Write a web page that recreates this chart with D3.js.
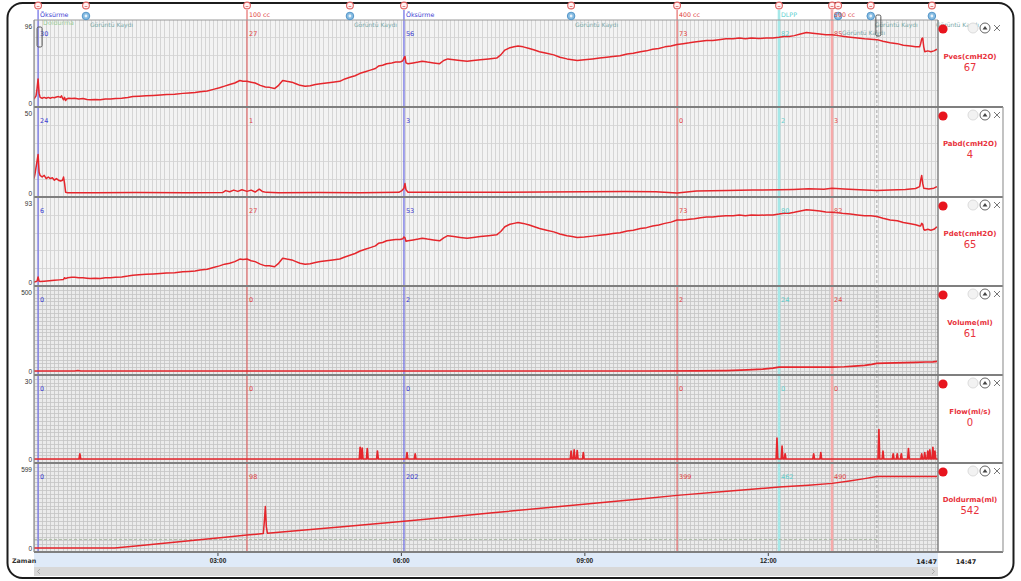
<!DOCTYPE html>
<html>
<head>
<meta charset="utf-8">
<script src="https://cdn.jsdelivr.net/npm/d3@7"></script>
<style>
  body { margin: 0; background: #fff; }
  svg { display: block; font-family: "DejaVu Sans", "Liberation Sans", sans-serif; }
</style>
</head>
<body>
<svg id="chart" width="1021" height="581"></svg>
<script>
// ---- recording data (time in seconds) ----
const totalSeconds = 887;
const channelNames = ["Pves(cmH2O)", "Pabd(cmH2O)", "Pdet(cmH2O)", "Volume(ml)", "Flow(ml/s)", "Doldurma(ml)"];
const channelMax = [96, 50, 93, 500, 30, 599];
const currentValues = [67, 4, 65, 61, 0, 542];

const pves = [[0,5],[1,7],[2,9],[3,18],[4,30],[5,12],[6,7],[8,6],[10,7],[12,6],[14,7],[16,6],[18,7],[20,6.5],[22,7.5],[24,8],[26,7],[27,9],[28,6],[29,4],[30,7],[31,3],[32,5],[34,6],[37,5.5],[40,6],[44,5],[48,5.5],[52,4.5],[55,4],[60,4.5],[65,4],[70,5],[75,5],[80,5.5],[86,6],[92,7],[97,8],[103,8.5],[110,9],[117,9.5],[124,10],[130,10.5],[138,11],[146,12],[152,12.5],[158,13],[163,14],[170,15],[176,17],[182,19],[187,21],[192,23],[197,25],[202,28],[205,27],[209,27],[213,26],[217,25],[222,22],[227,20],[231,19.5],[236,18],[240,22],[244,28],[248,27],[253,26],[257,24],[261,22],[266,21],[271,21.5],[276,23],[281,24],[287,25],[293,26],[300,27],[305,30],[310,32],[315,34],[320,37],[325,39],[330,41],[335,43],[338,46],[342,47],[346,49],[351,50],[355,51],[359,51],[361,52],[362,53],[363,56],[364,58],[365,50],[367,49],[372,50],[377,51],[381,52],[386,51],[392,50],[398,49],[402,53],[406,55],[412,54],[418,53],[425,52],[431,53],[438,54],[446,55],[454,56],[458,60],[462,66],[467,69],[471,70],[475,71],[480,70],[486,68],[491,66],[496,64],[503,62],[510,60],[516,57],[523,55],[528,54],[533,53],[540,54],[548,55],[555,56],[562,57],[568,58],[575,59],[582,61],[588,62],[595,64],[601,65],[607,67],[613,68],[619,70],[625,71],[631,73],[637,74],[643,75],[648,76],[654,77],[660,78],[666,78],[672,79],[679,80],[686,80],[692,81],[698,80],[704,81],[711,80.5],[719,81],[725,81],[731,82],[736,83],[741,83],[746,84],[752,86],[758,88],[764,87],[771,86],[777,85],[783,85],[789,84],[795,83],[801,82],[808,81],[815,80],[821,79.5],[827,79],[833,77],[840,75],[847,74],[853,72],[860,71],[865,70],[869,70],[870,74],[871,80],[872,81],[873,70],[874,64],[877,65],[880,64],[883,65],[886,67]];

const pabd = [[0,9],[1,12],[2,16],[3,20],[4,24],[5,13],[6,11],[8,10],[10,11],[12,9],[14,10],[16,9],[18,9.5],[20,8],[22,9],[24,8],[26,7.5],[28,8],[29,10],[30,6],[31,0.5],[33,0.2],[60,0.2],[100,0.3],[150,0.2],[185,0.3],[188,1.5],[192,0.8],[196,1.8],[200,1],[204,2],[209,1],[213,1.8],[217,0.6],[221,2.4],[224,1],[228,0.4],[240,0.2],[280,0.3],[320,0.2],[358,0.4],[361,1.5],[363,3],[364,6],[365,2],[367,0.5],[400,0.4],[450,0.5],[500,0.6],[540,0.8],[580,1],[610,0.8],[631,0],[650,1.2],[680,1.6],[705,1.8],[731,2],[745,2.2],[760,2.6],[775,2.4],[783,3],[795,2.5],[810,2],[827,1.6],[840,1.8],[855,2.2],[865,2.8],[869,4],[870,8],[871,11],[872,6],[873,3],[878,2.5],[883,3],[886,4]];

const pdet = [[0,0],[2,0.5],[3,1],[4,6],[5,1],[6,0.5],[10,1],[15,1.5],[20,2],[25,2.5],[29,3],[30,5],[31,4],[33,5],[37,5.5],[40,5.5],[44,5],[48,5],[52,4.5],[55,4],[60,4.5],[65,4],[70,5],[75,5],[80,5.5],[86,6],[92,7],[97,8],[103,8.5],[110,9],[117,9.5],[124,10],[130,10.5],[138,11],[146,12],[152,12.5],[158,13],[163,14],[170,15],[176,17],[182,19],[187,21],[192,22],[197,24],[202,27],[205,26.5],[209,27],[213,25],[217,24],[222,21],[227,19],[231,19],[236,18],[240,22],[244,28],[248,27],[253,26],[257,24],[261,22],[266,21],[271,21.5],[276,23],[281,24],[287,25],[293,26],[300,27],[305,29.5],[310,31.5],[315,33.5],[320,36.5],[325,38.5],[330,40.5],[335,42.5],[338,45.5],[342,46.5],[346,48.5],[351,49.5],[355,50],[359,50],[362,51],[363,53],[364,52],[365,48],[367,48.5],[372,49.5],[377,50.5],[381,51.5],[386,50.5],[392,49.5],[398,48.5],[402,52],[406,54.5],[412,53.5],[418,52.5],[425,51.5],[431,52.5],[438,53.5],[446,54.5],[454,55.5],[458,59.5],[462,65],[467,68],[471,69],[475,70],[480,69],[486,67],[491,65],[496,63],[503,61],[510,59],[516,56.5],[523,54.5],[528,53.5],[533,52.5],[540,53],[548,54],[555,55],[562,56],[568,57],[575,58],[582,60],[588,61],[595,63],[601,64],[607,66],[613,67],[619,69],[625,70.5],[631,73],[637,73],[643,74],[648,74.5],[654,75.5],[660,76.5],[666,76.5],[672,77.5],[679,78],[686,78],[692,79],[698,78],[704,79],[711,78.5],[719,79],[725,79],[731,80],[736,81],[741,81],[746,82],[752,83.5],[758,85],[764,84.5],[771,83.5],[777,82.5],[783,82],[789,81.5],[795,80.5],[801,80],[808,79],[815,78],[821,78],[827,77],[833,75],[840,73],[847,72],[853,70],[860,68.5],[865,67.5],[869,66],[870,66],[871,69],[872,68],[873,62],[874,61],[877,62],[880,61],[883,62],[886,65]];

const volume = [[0,0],[40,0],[43,3],[46,0],[300,0],[600,0],[650,0.5],[680,3],[700,7],[715,12],[725,18],[731,24],[760,24],[783,24],[795,27],[805,31],[815,36],[822,42],[827,48],[835,50],[845,52],[855,53],[865,55],[875,57],[882,58],[886,61]];

const flowSpikeTimes = [45, 320, 322, 327, 337, 366, 374, 527, 530, 533, 539, 729, 734, 737, 765, 772, 829, 833, 843, 847, 851, 858, 871, 874, 877, 879, 882, 884];
const flowSpikePeaks = [2, 4.5, 4.2, 4, 3, 2.5, 2, 3, 3.5, 3.2, 2.5, 8, 5, 2, 2, 2.5, 11.3, 3, 2, 2, 2, 4, 2, 2.5, 3, 3.5, 4.5, 3];

const filling = [[0,0],[79,0],[100,15],[130,37],[160,60],[190,83],[209,98],[225,110],[226,200],[227,314],[228,160],[229,112],[260,133],[300,160],[330,180],[363,202],[400,230],[450,267],[500,303],[550,340],[600,376],[631,399],[680,430],[731,462],[760,476],[783,490],[800,508],[815,526],[827,542],[886,542]];

const eventTimes = [4, 209, 363, 631, 731, 783];
const eventNames = ["Öksürme", "100 cc", "Öksürme", "400 cc", "DLPP", "500 cc"];
const eventKinds = ["cough", "volume", "cough", "volume", "dlpp", "volumeMark"];
const eventReadings = [
  [30, 27, 56, 73, 82, 85],
  [24, 1, 3, 0, 2, 3],
  [6, 27, 53, 73, 80, 82],
  [0, 0, 2, 2, 24, 24],
  [0, 0, 0, 0, 0, 0],
  [0, 98, 202, 399, 462, 490]
];
const snapshotTimes = [51, 310, 527, 789, 821, 881];
const snapshotLabel = "Görüntü Kaydı";
const fillStartLabel = "Doldurma";
const fillEndTime = 827;
const fillGuideValue = 65;
const timeTicks = [180, 360, 540, 720];
const axisTitle = "Zaman";

// ---- layout ----
const svg = d3.select("#chart");
const plotL = 34, plotR = 938, boxR = 1003;
const bands = [[20, 107], [107, 197], [197, 286], [286, 375], [375, 463], [463, 552]];
const x = d3.scaleLinear().domain([0, totalSeconds]).range([plotL, plotR]);
const yScales = bands.map((b, i) => d3.scaleLinear().domain([0, channelMax[i]]).range([b[1] - 4, b[0] + 6]));
const traceColor = "#e5262c";
const styleOf = {
  cough: { color: "#7474e6", width: 1.3, text: "#3c3cd2" },
  volume: { color: "#e05050", width: 1, text: "#e04040" },
  dlpp: { color: "#a6e8e8", width: 2.6, text: "#5fd0d0" },
  volumeMark: { color: "#f6aaaa", width: 2.6, text: "#e04848" }
};
const fmt = s => String(Math.floor(s / 60)).padStart(2, "0") + ":" + String(s % 60).padStart(2, "0");

// flow trace built from its spikes on a zero baseline
const flow = [[0, 0]];
flowSpikeTimes.forEach((t, i) => { flow.push([t - 0.8, 0], [t, flowSpikePeaks[i]], [t + 0.8, 0]); });
flow.push([totalSeconds, 0]);
const series = [pves, pabd, pdet, volume, flow, filling];

// ---- outer frame ----
svg.append("rect").attr("x", 7.5).attr("y", 3).attr("width", 1006).attr("height", 575)
  .attr("rx", 15).attr("fill", "#fff").attr("stroke", "#1c1c1c").attr("stroke-width", 2);

const defs = svg.append("defs");
bands.forEach((b, i) => {
  defs.append("clipPath").attr("id", "clip" + i).append("rect")
    .attr("x", plotL).attr("y", b[0]).attr("width", plotR - plotL).attr("height", b[1] - b[0]);
});

// ---- panel backgrounds and grids ----
const gridTimes = d3.range(0, totalSeconds, 4);
bands.forEach((b, i) => {
  const dense = i >= 3;
  const g = svg.append("g").attr("clip-path", `url(#clip${i})`);
  g.append("rect").attr("x", plotL).attr("y", b[0]).attr("width", plotR - plotL).attr("height", b[1] - b[0])
    .attr("fill", dense ? "#ebebeb" : "#f3f3f3");
  g.selectAll("line.v").data(gridTimes).join("line")
    .attr("x1", d => Math.round(x(d)) + 0.5).attr("x2", d => Math.round(x(d)) + 0.5)
    .attr("y1", b[0]).attr("y2", b[1])
    .attr("stroke", dense ? "#c4c4c4" : "#cdcdcd").attr("stroke-width", 0.8);
  const rows = dense ? d3.range(1, 23).map(k => b[0] + k * (b[1] - b[0]) / 23)
                     : d3.range(1, 5).map(k => b[0] + k * (b[1] - b[0]) / 5);
  g.selectAll("line.h").data(rows).join("line")
    .attr("x1", plotL).attr("x2", plotR)
    .attr("y1", d => Math.round(d) + 0.5).attr("y2", d => Math.round(d) + 0.5)
    .attr("stroke", dense ? "#c4c4c4" : "#d2d2d2").attr("stroke-width", 0.8);
});

// ---- event lines ----
eventTimes.forEach((t, j) => {
  const st = styleOf[eventKinds[j]];
  svg.append("line").attr("x1", x(t)).attr("x2", x(t)).attr("y1", 10).attr("y2", 552)
    .attr("stroke", st.color).attr("stroke-width", st.width);
});
// end of filling
svg.append("line").attr("x1", x(fillEndTime)).attr("x2", x(fillEndTime)).attr("y1", 20).attr("y2", 552)
  .attr("stroke", "#9c9c9c").attr("stroke-width", 0.9).attr("stroke-dasharray", "3,2");
svg.append("line").attr("x1", plotL).attr("x2", x(fillEndTime))
  .attr("y1", yScales[5](fillGuideValue)).attr("y2", yScales[5](fillGuideValue))
  .attr("stroke", "#a8b8a0").attr("stroke-width", 0.9).attr("stroke-dasharray", "3,2");

// ---- traces ----
series.forEach((data, i) => {
  const y = yScales[i];
  const line = d3.line().x(d => x(d[0])).y(d => y(d[1]));
  svg.append("path").datum(data).attr("clip-path", `url(#clip${i})`)
    .attr("d", line).attr("fill", "none").attr("stroke", traceColor)
    .attr("stroke-width", i === 4 || i === 3 ? 1.7 : 1.5).attr("stroke-linejoin", "round");
});

// ---- panel borders ----
bands.forEach(b => {
  svg.append("line").attr("x1", plotL).attr("x2", boxR).attr("y1", b[1]).attr("y2", b[1])
    .attr("stroke", "#7f7f7f").attr("stroke-width", 2);
});
svg.append("line").attr("x1", plotL).attr("x2", plotR).attr("y1", 20).attr("y2", 20)
  .attr("stroke", "#9a9a9a").attr("stroke-width", 1.2);
svg.append("line").attr("x1", plotL).attr("x2", plotL).attr("y1", 20).attr("y2", 552)
  .attr("stroke", "#8a8a8a").attr("stroke-width", 1.2);
svg.append("line").attr("x1", plotR).attr("x2", plotR).attr("y1", 20).attr("y2", 552)
  .attr("stroke", "#7a7a7a").attr("stroke-width", 1.4);
svg.append("line").attr("x1", boxR).attr("x2", boxR).attr("y1", 107).attr("y2", 552)
  .attr("stroke", "#9a9a9a").attr("stroke-width", 1.2);

// ---- y axes ----
bands.forEach((b, i) => {
  const ax = svg.append("g").attr("transform", `translate(${plotL - 1},0)`)
    .call(d3.axisLeft(yScales[i]).tickValues([0, channelMax[i]]).tickSize(0).tickPadding(1).tickFormat(d3.format("d")));
  ax.select(".domain").remove();
  ax.selectAll("text").attr("font-size", 6.5).attr("fill", "#333");
});

// ---- event readings in each panel ----
bands.forEach((b, i) => {
  eventTimes.forEach((t, j) => {
    svg.append("text").attr("x", x(t) + 2).attr("y", b[0] + 16)
      .attr("font-size", 6.5).attr("fill", styleOf[eventKinds[j]].text)
      .text(eventReadings[i][j]);
  });
});

// ---- top markers and labels ----
const marks = svg.append("g");
eventTimes.concat(snapshotTimes).forEach(t => {
  marks.append("circle").attr("cx", x(t)).attr("cy", 5.5).attr("r", 3.4)
    .attr("fill", "#fff3f3").attr("stroke", "#e06262").attr("stroke-width", 1.1);
  marks.append("line").attr("x1", x(t) - 1.4).attr("x2", x(t) + 1.4).attr("y1", 6.5).attr("y2", 6.5)
    .attr("stroke", "#e06262").attr("stroke-width", 0.8);
});
eventTimes.forEach((t, j) => {
  svg.append("text").attr("x", x(t) + 2).attr("y", 16.5)
    .attr("font-size", 6.3).attr("fill", styleOf[eventKinds[j]].text).text(eventNames[j]);
});
svg.append("text").attr("x", x(eventTimes[0]) + 5).attr("y", 25)
  .attr("font-size", 6.3).attr("fill", "#9ccc98").text(fillStartLabel);
snapshotTimes.forEach((t, k) => {
  const next = snapshotTimes[k + 1];
  const lowered = next !== undefined && x(next) - x(t) < 45;
  marks.append("circle").attr("cx", x(t)).attr("cy", 16).attr("r", 3.8)
    .attr("fill", "#86bce2").attr("stroke", "#4b8fc4").attr("stroke-width", 0.9);
  marks.append("circle").attr("cx", x(t)).attr("cy", 16).attr("r", 1.4).attr("fill", "#e8f3fb");
  svg.append("text").attr("x", x(t) + 4).attr("y", lowered ? 35 : 27)
    .attr("font-size", 6).attr("fill", "#79a8a8").text(snapshotLabel);
});
// cursor brackets
[[eventTimes[0], 27, 20], [fillEndTime, 15, 21]].forEach(([t, y0, h]) => {
  svg.append("rect").attr("x", x(t) - 1).attr("y", y0).attr("width", 5).attr("height", h)
    .attr("rx", 1.5).attr("fill", "none").attr("stroke", "#555").attr("stroke-width", 1);
});

// ---- right-hand channel boxes ----
bands.forEach((b, i) => {
  const g = svg.append("g");
  g.append("circle").attr("cx", 943).attr("cy", b[0] + 9).attr("r", 4.6).attr("fill", "#e8141e");
  g.append("circle").attr("cx", 973).attr("cy", b[0] + 8).attr("r", 5).attr("fill", "#f2f2f2").attr("stroke", "#dcdcdc");
  g.append("circle").attr("cx", 985).attr("cy", b[0] + 8).attr("r", 5).attr("fill", "#fff").attr("stroke", "#555").attr("stroke-width", 0.9);
  g.append("path").attr("d", `M${982.5},${b[0] + 9.5}L985,${b[0] + 6}L${987.5},${b[0] + 9.5}Z`).attr("fill", "#444");
  g.append("path").attr("d", `M994,${b[0] + 5}L1000,${b[0] + 11}M1000,${b[0] + 5}L994,${b[0] + 11}`)
    .attr("stroke", "#777").attr("stroke-width", 1);
  g.append("text").attr("x", 970).attr("y", b[0] + 38.5).attr("text-anchor", "middle")
    .attr("font-size", 7).attr("font-weight", "bold").attr("fill", "#e8323c").text(channelNames[i]);
  g.append("text").attr("x", 970).attr("y", b[0] + 51).attr("text-anchor", "middle")
    .attr("font-size", 10).attr("fill", "#e8323c").text(currentValues[i]);
});

// ---- time axis ----
svg.append("rect").attr("x", plotL).attr("y", 553).attr("width", plotR - plotL).attr("height", 14).attr("fill", "#dfeaf8");
const tax = svg.append("g").attr("transform", "translate(0,553)")
  .call(d3.axisBottom(x).tickValues(timeTicks).tickSize(3).tickPadding(2).tickFormat(fmt));
tax.select(".domain").remove();
tax.selectAll("line").attr("stroke", "#444");
tax.selectAll("text").attr("font-size", 6.5).attr("font-weight", "bold").attr("fill", "#222");
svg.append("text").attr("x", plotR - 1).attr("y", 563.5).attr("text-anchor", "end")
  .attr("font-size", 6.5).attr("font-weight", "bold").attr("fill", "#222").text(fmt(totalSeconds));
svg.append("text").attr("x", 966).attr("y", 563.5).attr("text-anchor", "middle")
  .attr("font-size", 6.5).attr("font-weight", "bold").attr("fill", "#222").text(fmt(totalSeconds));
svg.append("text").attr("x", 12).attr("y", 563).attr("font-size", 6.3).attr("font-weight", "bold")
  .attr("fill", "#333").text(axisTitle);

// ---- scroll bar ----
svg.append("rect").attr("x", plotL).attr("y", 567).attr("width", plotR - plotL).attr("height", 9).attr("fill", "#d8d8d8");
svg.append("path").attr("d", "M40,569L37.5,571.5L40,574").attr("fill", "none").attr("stroke", "#aaa");
svg.append("path").attr("d", "M932,569L934.5,571.5L932,574").attr("fill", "none").attr("stroke", "#aaa");
</script>
</body>
</html>
